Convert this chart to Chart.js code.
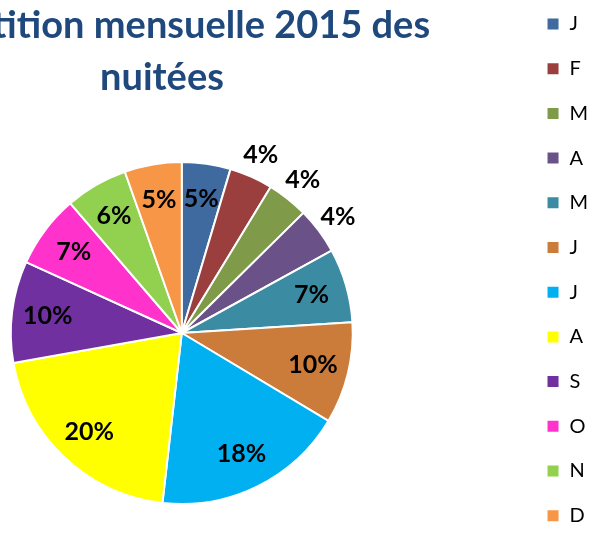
<!DOCTYPE html>
<html lang="fr">
<head>
<meta charset="utf-8">
<script src="https://cdn.jsdelivr.net/npm/chart.js@4.4.1/dist/chart.umd.min.js"></script>
<style>
  html, body { margin: 0; padding: 0; background: #fff; }
  #frame { position: relative; width: 590px; height: 542px; overflow: hidden; }
  #chart-title {
    position: absolute; left: -238px; top: -3px; width: 800px; margin: 0;
    text-align: center; font: 700 38px/52px Lato, sans-serif; color: #1F497D;
  }
  #chart-wrap { position: absolute; left: -160px; top: -14px; width: 760px; height: 700px; }
</style>
</head>
<body>
<div id="frame">
  <div id="chart-wrap"><canvas id="pie-canvas"></canvas></div>
  <h1 id="chart-title">Répartition mensuelle 2015 des<br>nuitées</h1>
</div>
<script>
// monthly share of overnight stays (%)
const months = ["J", "F", "M", "A", "M", "J", "J", "A", "S", "O", "N", "D"];
const shares = [4.6, 4.1, 3.9, 4.4, 7.0, 9.6, 18.2, 20.4, 9.6, 6.9, 5.9, 5.4];
const sliceColors = [
  "#3F6A9F", "#9B3F3E", "#7F9B49", "#6A5289", "#3B8BA2", "#CB7B3A",
  "#00B0F0", "#FFFF00", "#7030A0", "#FF33CC", "#92D050", "#F79646",
];
// small slices get their label outside the pie
const labelRadius = [0.79, 1.14, 1.14, 1.14, 0.79, 0.79, 0.79, 0.79, 0.79, 0.79, 0.79, 0.79];

const pctLabels = {
  id: "pctLabels",
  afterDatasetsDraw(chart) {
    const { ctx } = chart;
    const data = chart.data.datasets[0].data;
    const total = data.reduce((a, b) => a + b, 0);
    const meta = chart.getDatasetMeta(0);
    ctx.save();
    ctx.font = "bold 25px Lato, sans-serif";
    ctx.fillStyle = "#000";
    ctx.textAlign = "center";
    ctx.textBaseline = "middle";
    meta.data.forEach((arc, i) => {
      const { x, y, startAngle, endAngle, outerRadius } = arc.getProps(["x", "y", "startAngle", "endAngle", "outerRadius"], true);
      const mid = (startAngle + endAngle) / 2;
      const r = outerRadius * labelRadius[i];
      ctx.fillText(`${Math.round((data[i] / total) * 100)}%`, x + Math.cos(mid) * r, y + Math.sin(mid) * r);
    });
    ctx.restore();
  },
};

const canvas = document.getElementById("pie-canvas");
new Chart(canvas.getContext("2d"), {
  type: "pie",
  data: {
    labels: months,
    datasets: [
      {
        data: shares,
        backgroundColor: sliceColors,
        borderColor: "#fff",
        borderWidth: 2,
      },
    ],
  },
  options: {
    responsive: true,
    maintainAspectRatio: false,
    animation: false,
    events: [],
    radius: 171,
    layout: { padding: { left: 1.7, right: 1.9, top: 3.3, bottom: 9.3 } },
    plugins: {
      tooltip: { enabled: false },
      legend: {
        position: "right",
        align: "start",
        labels: {
          boxWidth: 13,
          boxHeight: 13,
          padding: 24.7,
          color: "#000",
          font: { family: "Lato", size: 20 },
        },
      },
    },
  },
  plugins: [pctLabels],
});
</script>
</body>
</html>
